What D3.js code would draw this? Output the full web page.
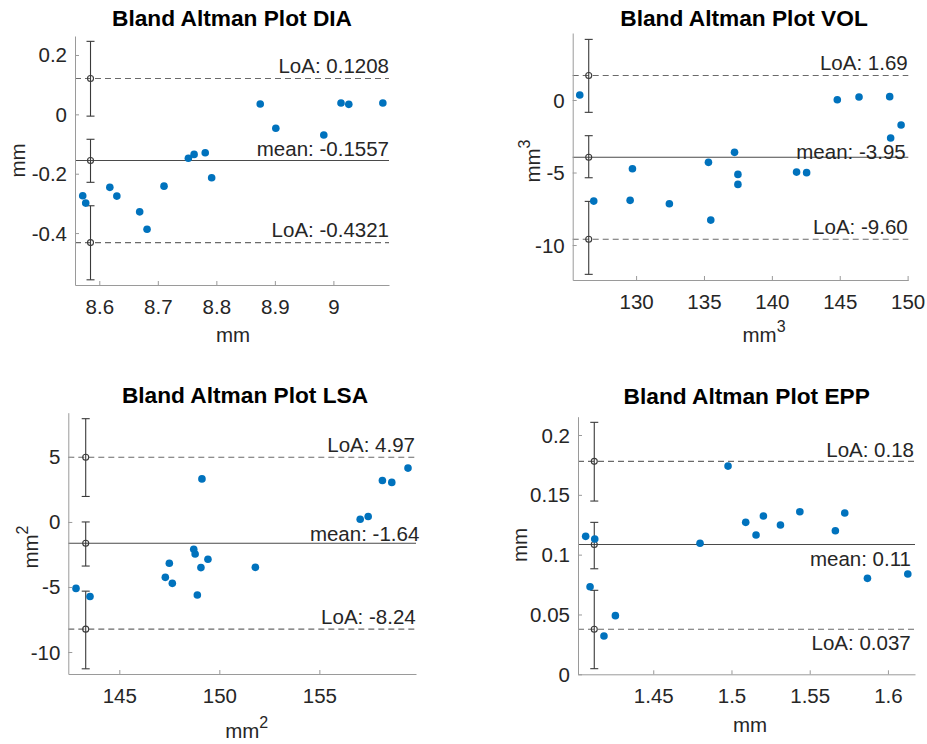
<!DOCTYPE html>
<html>
<head>
<meta charset="utf-8">
<script src="https://d3js.org/d3.v7.min.js"></script>
<style>
  html, body { margin: 0; padding: 0; background: #fff; }
  svg { display: block; font-family: "Liberation Sans", Arial, Helvetica, sans-serif; }
</style>
</head>
<body>
<svg id="chart" width="927" height="744"></svg>
<script>
// ---------------- DATA ----------------
const titles = ["Bland Altman Plot DIA", "Bland Altman Plot VOL", "Bland Altman Plot LSA", "Bland Altman Plot EPP"];
const unitBase = ["mm", "mm", "mm", "mm"];
const unitSup = ["", "3", "2", ""];

// DIA
const diaX = [8.5717, 8.5768, 8.618, 8.630, 8.669, 8.6816, 8.7106, 8.7522, 8.762, 8.781, 8.792, 8.875, 8.9016, 8.9836, 9.013, 9.0263, 9.0845];
const diaY = [-0.2745, -0.299, -0.246, -0.2755, -0.3285, -0.387, -0.242, -0.148, -0.135, -0.1295, -0.2138, 0.0347, -0.047, -0.0698, 0.038, 0.0337, 0.038];
const diaLines = [0.1208, -0.1557, -0.4321];           // upper LoA, mean, lower LoA
const diaLabels = ["LoA: 0.1208", "mean: -0.1557", "LoA: -0.4321"];
const diaCI = [[-0.006, 0.246], [-0.229, -0.084], [-0.5575, -0.308]];
const diaCIx = 8.585;
const diaXTicks = [8.6, 8.7, 8.8, 8.9, 9];
const diaXTickLabels = ["8.6", "8.7", "8.8", "8.9", "9"];
const diaYTicks = [0.2, 0, -0.2, -0.4];
const diaYTickLabels = ["0.2", "0", "-0.2", "-0.4"];

// VOL
const volX = [125.85, 126.88, 129.56, 129.73, 132.45, 135.33, 135.5, 137.25, 137.5, 137.5, 141.82, 142.56, 144.82, 146.42, 148.68, 148.75, 149.52];
const volY = [0.345, -6.97, -6.92, -4.74, -7.15, -4.30, -8.28, -3.61, -5.13, -5.82, -4.97, -5.01, 0.02, 0.21, 0.23, -2.62, -1.72];
const volLines = [1.69, -3.95, -9.60];
const volLabels = ["LoA: 1.69", "mean: -3.95", "LoA: -9.60"];
const volCI = [[-0.85, 4.18], [-5.36, -2.46], [-12.02, -6.99]];
const volCIx = 126.51;
const volXTicks = [130, 135, 140, 145, 150];
const volXTickLabels = ["130", "135", "140", "145", "150"];
const volYTicks = [0, -5, -10];
const volYTickLabels = ["0", "-5", "-10"];

// LSA
const lsaX = [142.835, 143.535, 147.3, 147.5, 147.65, 148.72, 148.79, 148.9, 149.08, 149.13, 149.43, 151.8, 157.04, 157.44, 158.15, 158.62, 159.43];
const lsaY = [-5.11, -5.73, -4.26, -3.18, -4.72, -2.10, -2.46, -5.62, -3.51, 3.31, -2.87, -3.49, 0.21, 0.42, 3.19, 3.04, 4.14];
const lsaLines = [4.97, -1.64, -8.24];
const lsaLabels = ["LoA: 4.97", "mean: -1.64", "LoA: -8.24"];
const lsaCI = [[1.96, 7.94], [-3.39, 0.0], [-11.29, -5.32]];
const lsaCIx = 143.32;
const lsaXTicks = [145, 150, 155];
const lsaXTickLabels = ["145", "150", "155"];
const lsaYTicks = [5, 0, -5, -10];
const lsaYTickLabels = ["5", "0", "-5", "-10"];

// EPP
const eppX = [1.4068, 1.4126, 1.4096, 1.4185, 1.4258, 1.4799, 1.4978, 1.5091, 1.5157, 1.5204, 1.5313, 1.5437, 1.5664, 1.5724, 1.5869, 1.6127];
const eppY = [0.1153, 0.1131, 0.0732, 0.032, 0.049, 0.1095, 0.174, 0.127, 0.1164, 0.1323, 0.1248, 0.1359, 0.12, 0.1348, 0.0802, 0.0838];
const eppLines = [0.178, 0.1085, 0.0376];
const eppLabels = ["LoA: 0.18", "mean: 0.11", "LoA: 0.037"];
const eppCI = [[0.1448, 0.2106], [0.0882, 0.127], [0.0047, 0.0702]];
const eppCIx = 1.4123;
const eppXTicks = [1.45, 1.5, 1.55, 1.6];
const eppXTickLabels = ["1.45", "1.5", "1.55", "1.6"];
const eppYTicks = [0, 0.05, 0.1, 0.15, 0.2];
const eppYTickLabels = ["0", "0.05", "0.1", "0.15", "0.2"];

// ---------------- LAYOUT (styles/positions) ----------------
const panels = [
  { x: diaX, y: diaY, lines: diaLines, labels: diaLabels, ci: diaCI, cix: diaCIx,
    xt: diaXTicks, xtl: diaXTickLabels, yt: diaYTicks, ytl: diaYTickLabels,
    box: [75, 36, 389, 285], xd: [8.5585, 9.095], yd: [-0.575, 0.264],
    lab: [[389, -5], [389, -4.3], [389, -5.3]],
    title: [232, 26], xl: [233, 341.7], yl: [25, 160.5] },
  { x: volX, y: volY, lines: volLines, labels: volLabels, ci: volCI, cix: volCIx,
    xt: volXTicks, xtl: volXTickLabels, yt: volYTicks, ytl: volYTickLabels,
    box: [572.7, 33, 908.3, 280], xd: [125.33, 150.05], yd: [-12.41, 4.62],
    lab: [[907.7, -5.7], [905.7, 2], [907.7, -5.4]],
    title: [744, 26], xl: [764, 341.7], yl: [540, 161] },
  { x: lsaX, y: lsaY, lines: lsaLines, labels: lsaLabels, ci: lsaCI, cix: lsaCIx,
    xt: lsaXTicks, xtl: lsaXTickLabels, yt: lsaYTicks, ytl: lsaYTickLabels,
    box: [68.3, 412.7, 416, 674], xd: [142.45, 159.83], yd: [-11.69, 8.4],
    lab: [[415, -5.6], [419.3, -2.6], [415.7, -5.3]],
    title: [245, 403.3], xl: [246.7, 738.3], yl: [38, 547] },
  { x: eppX, y: eppY, lines: eppLines, labels: eppLabels, ci: eppCI, cix: eppCIx,
    xt: eppXTicks, xtl: eppXTickLabels, yt: eppYTicks, ytl: eppYTickLabels,
    box: [578, 416.7, 915, 674.3], xd: [1.4019, 1.6173], yd: [0, 0.2153],
    lab: [[914, -4.6], [911, 21.7], [910.7, 20.7]],
    title: [746.7, 404.3], xl: [750, 731.7], yl: [527, 545] }
];

const svg = d3.select("#chart");
const axisColor = "#9a9a9a";
const textColor = "#262626";
const fs = 20.5;

function addUnit(sel, i) {
  sel.append("tspan").text(unitBase[i]);
  if (unitSup[i]) sel.append("tspan").attr("dy", -10).attr("font-size", 16).text(unitSup[i]);
}

panels.forEach((p, i) => {
  const [l, t, r, b] = p.box;
  const xs = d3.scaleLinear().domain(p.xd).range([l, r]);
  const ys = d3.scaleLinear().domain(p.yd).range([b, t]);
  const g = svg.append("g");

  // reference lines
  p.lines.forEach((v, k) => {
    g.append("line")
      .attr("x1", l).attr("x2", r).attr("y1", ys(v)).attr("y2", ys(v))
      .attr("stroke", k === 1 ? "#4a4a4a" : "#6a6a6a")
      .attr("stroke-width", 1.1)
      .attr("stroke-dasharray", k === 1 ? null : "6,4");
  });

  // error bars
  p.ci.forEach((c, k) => {
    const cx = xs(p.cix);
    const eg = g.append("g").attr("stroke", "#3a3a3a").attr("fill", "none").attr("stroke-width", 1.1);
    eg.append("line").attr("x1", cx).attr("x2", cx).attr("y1", ys(c[0])).attr("y2", ys(c[1]));
    eg.append("line").attr("x1", cx - 4).attr("x2", cx + 4).attr("y1", ys(c[0])).attr("y2", ys(c[0]));
    eg.append("line").attr("x1", cx - 4).attr("x2", cx + 4).attr("y1", ys(c[1])).attr("y2", ys(c[1]));
    eg.append("circle").attr("cx", cx).attr("cy", ys(p.lines[k])).attr("r", 3);
  });

  // points
  g.selectAll("circle.pt").data(p.x.map((xv, j) => [xv, p.y[j]]))
    .enter().append("circle").attr("class", "pt")
    .attr("cx", d => xs(d[0])).attr("cy", d => ys(d[1]))
    .attr("r", 3.8).attr("fill", "#0072BD");

  // axes (MATLAB style: inward ticks, box off)
  const xAxis = d3.axisBottom(xs).tickValues(p.xt).tickSizeInner(-4).tickSizeOuter(0)
    .tickFormat((d, j) => p.xtl[j]).tickPadding(16);
  const xa = g.append("g").attr("transform", `translate(0,${b})`).call(xAxis);
  const yAxis = d3.axisLeft(ys).tickValues(p.yt).tickSizeInner(-4).tickSizeOuter(0)
    .tickFormat((d, j) => p.ytl[j]).tickPadding(8);
  const ya = g.append("g").attr("transform", `translate(${l},0)`).call(yAxis);
  [xa, ya].forEach(a => {
    a.select(".domain").attr("stroke", axisColor);
    a.selectAll(".tick line").attr("stroke", axisColor);
    a.selectAll(".tick text").attr("fill", textColor).attr("font-size", fs)
      .attr("font-family", "Liberation Sans, Arial, sans-serif");
  });
  xa.selectAll(".tick text").attr("dy", null).attr("y", 28.5);
  ya.selectAll(".tick text").attr("dy", null).attr("y", 7).attr("x", -8);

  // line labels
  p.labels.forEach((s, k) => {
    g.append("text").attr("x", p.lab[k][0]).attr("y", ys(p.lines[k]) + p.lab[k][1])
      .attr("text-anchor", "end").attr("font-size", fs).attr("fill", textColor).text(s);
  });

  // title
  g.append("text").attr("x", p.title[0]).attr("y", p.title[1])
    .attr("text-anchor", "middle").attr("font-size", 22.7).attr("font-weight", "bold")
    .attr("fill", "#000").text(titles[i]);

  // x label
  const xl = g.append("text").attr("x", p.xl[0]).attr("y", p.xl[1])
    .attr("text-anchor", "middle").attr("font-size", fs).attr("fill", textColor);
  addUnit(xl, i);

  // y label
  const yl = g.append("text").attr("transform", `translate(${p.yl[0]},${p.yl[1]}) rotate(-90)`)
    .attr("text-anchor", "middle").attr("font-size", fs).attr("fill", textColor);
  addUnit(yl, i);
});
</script>
</body>
</html>
